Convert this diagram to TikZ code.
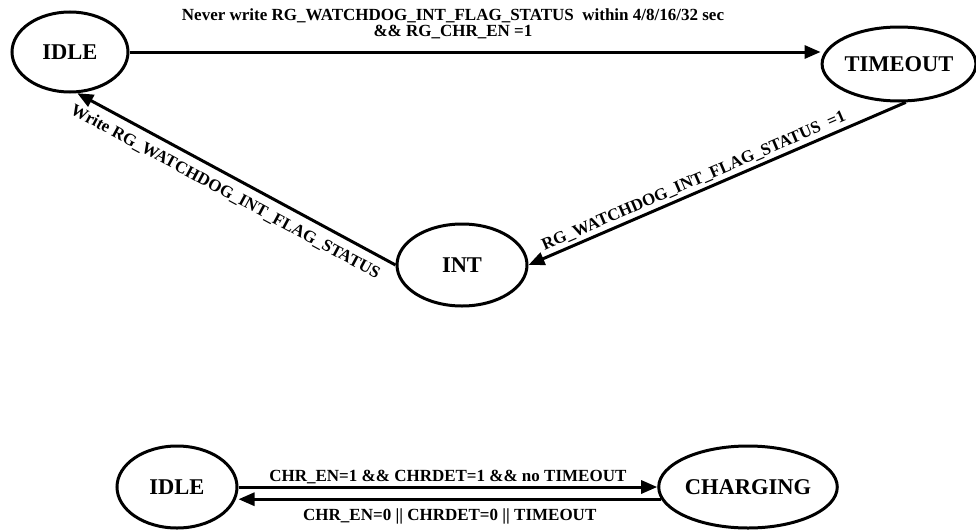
\documentclass[tikz,border=0pt]{standalone}
\usepackage{fontspec}
\setmainfont{Liberation Serif}
\usetikzlibrary{shapes.geometric,arrows.meta}
\begin{document}
\begin{tikzpicture}[x=1pt,y=-1pt,
  state/.style={ellipse,draw,line width=3pt,inner sep=0pt,font=\fontsize{22.5}{26}\selectfont\bfseries},
  arr/.style={line width=3pt,-{Triangle[length=16pt,width=13pt]}},
  lbl/.style={font=\fontsize{17}{19}\selectfont\bfseries,inner sep=2pt}]
\path[use as bounding box] (0,0) rectangle (976,530);
\node[state,minimum width=116pt,minimum height=80pt] (idleA) at (70,52) {IDLE};
\node[state,minimum width=152pt,minimum height=74pt] (timeout) at (899,64) {TIMEOUT};
\node[state,minimum width=130pt,minimum height=82pt] (int) at (462,265) {INT};
\node[state,minimum width=120pt,minimum height=82pt] (idleB) at (177,487) {IDLE};
\node[state,minimum width=176pt,minimum height=82pt] (charging) at (748,487) {CHARGING};
\draw[arr] (idleA.east) -- (timeout.west |- idleA.east);
\node[lbl,align=center] (lt) at (453,24) {Never write RG\_WATCHDOG\_INT\_FLAG\_STATUS~ within 4/8/16/32 sec\\[-3pt] \&\& RG\_CHR\_EN =1};
\draw[arr] (int.west) -- (idleA.-80) node[lbl,pos=0.51,sloped,below=6pt] (l1) {Write RG\_WATCHDOG\_INT\_FLAG\_STATUS};
\draw[arr] (timeout.-80) -- (int.east) node[lbl,pos=0.55,sloped,above=1pt] (l2) {RG\_WATCHDOG\_INT\_FLAG\_STATUS~ =1};
\draw[arr] (idleB.east) -- (charging.west) node[lbl,midway,above] (l3) {CHR\_EN=1 \&\& CHRDET=1 \&\& no TIMEOUT};
\draw[arr] (charging.188) -- (charging.188 -| idleB.east) node[lbl,midway,below=6pt] (l4) {CHR\_EN=0 || CHRDET=0 || TIMEOUT};
\end{tikzpicture}
\end{document}
